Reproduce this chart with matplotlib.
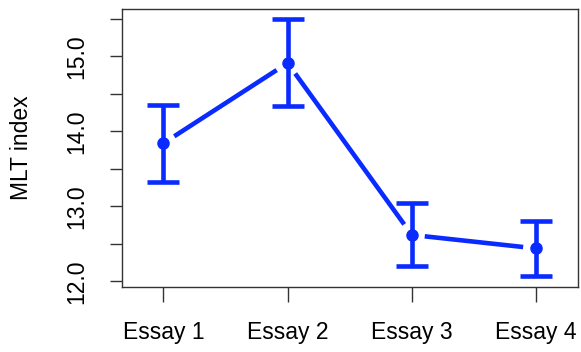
import numpy as np
import matplotlib
matplotlib.use("Agg")
import matplotlib.pyplot as plt

plt.rcParams["font.family"] = ["Liberation Sans", "DejaVu Sans"]

essays = ["Essay 1", "Essay 2", "Essay 3", "Essay 4"]
mlt_mean = [13.84, 14.91, 12.62, 12.44]
ci_upper = [14.35, 15.49, 13.04, 12.81]
ci_lower = [13.32, 14.34, 12.20, 12.07]

BLUE = "#0a2bff"
FS = 16.5
LW = 3.3

fig = plt.figure(figsize=(5.81, 3.52), dpi=100)
ax = fig.add_axes([0.2095, 0.1855, 0.7848, 0.789])

x = np.arange(1, len(essays) + 1)
mean = np.array(mlt_mean)
lo = mean - np.array(ci_lower)
hi = np.array(ci_upper) - mean

ax.set_xlim(0.665, 4.335)
ax.set_ylim(11.93, 15.63)

ax.errorbar(x, mean, yerr=[lo, hi], fmt="o", color=BLUE, ms=8,
            elinewidth=LW, capsize=11.5, capthick=LW, zorder=3)

# R-style "type = b": connecting segments stop short of each point
fig.canvas.draw()
gap = 13.0
pts = ax.transData.transform(np.column_stack([x, mean]))
inv = ax.transData.inverted()
for p0, p1 in zip(pts[:-1], pts[1:]):
    d = p1 - p0
    u = d / np.hypot(*d)
    seg = inv.transform(np.array([p0 + u * gap, p1 - u * gap]))
    ax.plot(seg[:, 0], seg[:, 1], color=BLUE, lw=LW, solid_capstyle="butt", zorder=2)

yt = np.arange(12.0, 15.51, 0.5)
ax.set_yticks(yt)
ax.set_yticklabels([f"{v:.1f}" if v == int(v) else "" for v in yt])
ax.set_xticks(x)
ax.set_xticklabels(essays)

ax.tick_params(axis="y", length=9, width=1, pad=15, labelsize=FS, labelrotation=90,
               color="#333333")
ax.tick_params(axis="x", length=11, width=1, pad=14, labelsize=FS, color="#333333")
for lab in ax.get_yticklabels():
    lab.set_va("center")

for s in ax.spines.values():
    s.set_linewidth(1)
    s.set_color("#333333")

fig.text(22 / 581, 1 - 147.5 / 352, "MLT index", rotation=90, ha="center", va="center",
         fontsize=FS)

fig.savefig("out.png", dpi=100)
